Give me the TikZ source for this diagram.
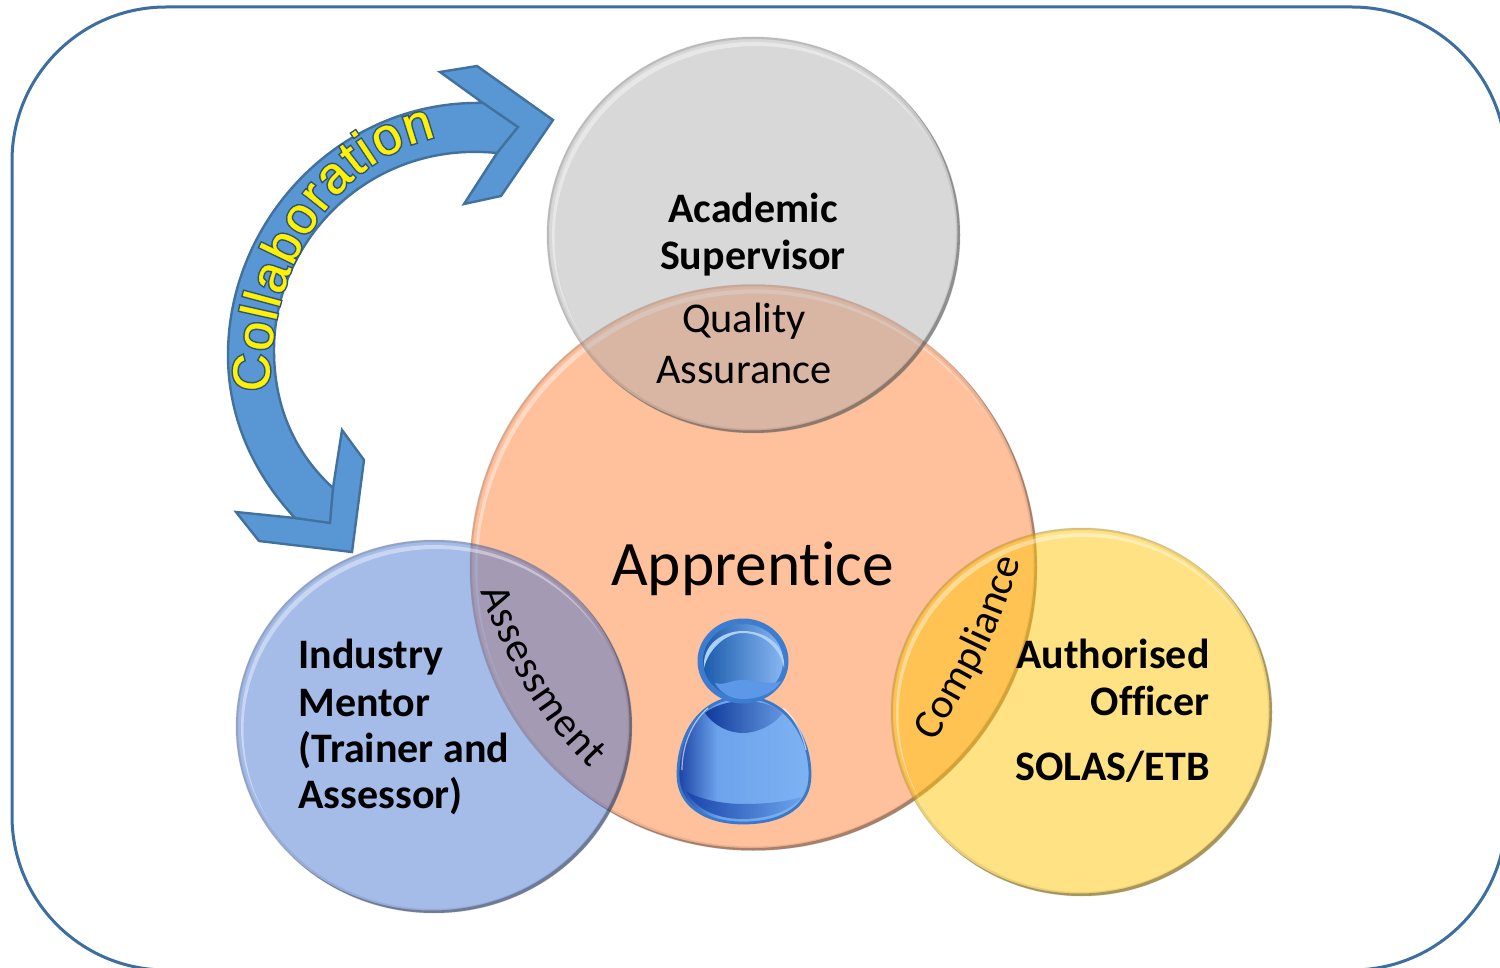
\documentclass[tikz,border=0pt]{standalone}
\usepackage{fontspec}
\usetikzlibrary{decorations.text}
\setmainfont[Ligatures=NoCommon]{Carlito}
\newfontfamily\wafont[FakeBold=.6]{Liberation Sans}
\newfontfamily\wastroke[FakeBold=6.5]{Liberation Sans}
\definecolor{frameblue}{HTML}{3C6EA0}
\definecolor{arrowfill}{HTML}{5897D3}
\definecolor{arrowline}{HTML}{41719C}
\definecolor{halo}{HTML}{2F5378}
\definecolor{peach}{HTML}{FFC09C}
\definecolor{gbub}{RGB}{172,172,172}
\definecolor{bbub}{RGB}{67,113,207}
\definecolor{ybub}{RGB}{255,199,11}
\definecolor{pedge}{RGB}{58,120,200}
\definecolor{pbodyL}{RGB}{28,66,165}
\definecolor{pbodyM}{RGB}{108,163,236}
\definecolor{pbodyR}{RGB}{126,178,243}
\definecolor{pchinL}{RGB}{15,58,155}
\definecolor{pchinR}{RGB}{100,150,222}
\definecolor{pbandL}{RGB}{25,70,170}
\definecolor{pheadE}{RGB}{60,125,208}
\definecolor{pheadL}{RGB}{28,92,172}
\definecolor{pheadR}{RGB}{135,182,242}
\definecolor{pheadG}{RGB}{92,151,232}
\definecolor{pheadH}{RGB}{175,208,246}
\pgfdeclarehorizontalshading{bodyshade}{100bp}{color(0bp)=(pbodyL); color(25bp)=(pbodyL); color(40bp)=(pbodyM); color(75bp)=(pbodyR); color(100bp)=(pbodyR)}
\tikzset{
  lab/.style={inner sep=0pt,font=\fontsize{21pt}{25pt}\selectfont\bfseries},
  reg/.style={inner sep=0pt,font=\fontsize{21.2pt}{25pt}\selectfont},
  arrowshape/.style={fill=arrowfill,draw=arrowline,line width=1.2pt,line join=miter},
}
% cx cy rx ry colour opacity
\newcommand{\bubble}[6]{%
  \fill[#5,opacity=#6] (#1,#2) ellipse [x radius=#3,y radius=#4];
  \begin{scope}
    \clip (#1,#2) ellipse [x radius=#3,y radius=#4];
    \fill[black,opacity=.28,even odd rule] (0,0) rectangle (1500,968) ({#1-2.5},{#2-2.5}) ellipse [x radius=#3,y radius=#4];
    \fill[black,opacity=.08,even odd rule] (0,0) rectangle (1500,968) ({#1-1},{#2-1}) ellipse [x radius={#3-3},y radius={#4-3}];
    \fill[black,opacity=.05,even odd rule] (0,0) rectangle (1500,968) ({#1+2},{#2+2}) ellipse [x radius=#3,y radius=#4];
  \end{scope}
  \begin{scope}
    \clip (#1,#2) ellipse [x radius={#3-5},y radius={#4-5}];
    \fill[white,opacity=.40,even odd rule] (0,0) rectangle (1500,968) ({#1+2.5},{#2+4}) ellipse [x radius={#3-5},y radius={#4-5}];
  \end{scope}
  \draw[black!40,opacity=.22,line width=.5pt] (#1,#2) ellipse [x radius=#3,y radius=#4];
}
\begin{document}
\begin{tikzpicture}[x=.5pt,y=-.5pt]
\useasboundingbox (0,0) rectangle (1500,968);
\fill[white] (0,0) rectangle (1500,968);
\clip (0,0) rectangle (1500,968);
\draw[frameblue,line width=1.5pt,rounded corners=77pt] (12,7) rectangle (1506,970);

% collaboration arrow
\draw[arrowshape] (483,103) .. controls (340,100) and (228,220) .. (228,355)
  .. controls (228,420) and (255,475) .. (295,518)
  -- (236,512) -- (259,541) -- (352,552) -- (364,460) -- (342,430) -- (333,488)
  .. controls (297,455) and (274,410) .. (274,350)
  .. controls (274,240) and (370,140) .. (497,153)
  -- (464,204) -- (501,196) -- (553,120) -- (477,66) -- (440,72) -- cycle;
\draw[arrowline,line width=1.2pt] (483,103) -- (518,127) -- (497,153);
\draw[arrowline,line width=1.2pt] (295,518) -- (330,523) -- (333,488);
\path[decorate,decoration={text along path,text align={fit to path},
  text={|\fontsize{26pt}{30pt}\wastroke\color{halo}|Collaboration}}]
  (269,392) .. controls (268,265) and (335,160) .. (436,137);
\path[decorate,decoration={text along path,text align={fit to path},
  text={|\fontsize{26pt}{30pt}\wafont\color{yellow}|Collaboration}}]
  (269,392) .. controls (268,265) and (335,160) .. (436,137);

% circles
\bubble{753.5}{567.5}{283.5}{283}{peach}{1}
\bubble{753.5}{235}{206.5}{198}{gbub}{.46}
\bubble{434}{726.5}{198}{186.5}{bbub}{.48}
\bubble{1081.5}{712}{190.5}{184}{ybub}{.5}

% person
\draw[draw=pedge,line width=1.4pt,shading=bodyshade]
  (743,697) .. controls (700,697) and (678,735) .. (678,775)
  .. controls (678,805) and (705,823) .. (743,823)
  .. controls (785,823) and (810,805) .. (810,775)
  .. controls (810,735) and (785,697) .. (743,697) -- cycle;
\shade[left color=pchinL,right color=pchinR]
  (705,713) .. controls (725,697) and (765,697) .. (783,713)
  .. controls (772,727) and (755,733) .. (743,733)
  .. controls (730,733) and (715,727) .. (705,713) -- cycle;
\shade[left color=pbandL,right color=pbodyM]
  (686,791) .. controls (700,800) and (725,804) .. (743,804)
  .. controls (765,804) and (785,802) .. (802,797)
  .. controls (790,812) and (765,819) .. (743,819)
  .. controls (715,819) and (695,808) .. (686,791) -- cycle;
\draw[white,opacity=.6,line width=.6pt] (682,770) .. controls (682,745) and (692,722) .. (708,708);
\draw[white,opacity=.6,line width=.6pt] (783,708) .. controls (795,718) and (803,735) .. (806,750);
% head
\fill[pheadE] (743,661) ellipse [x radius=45.5,y radius=42.5];
\shade[left color=pheadL,right color=pheadR]
  (743,661) ellipse [x radius=40,y radius=37];
\fill[pheadG]
  (715,683) .. controls (725,686) and (730,680) .. (743,680)
  .. controls (758,680) and (770,686) .. (781,681)
  .. controls (775,692) and (760,699) .. (743,699)
  .. controls (730,699) and (720,692) .. (715,683) -- cycle;
\fill[pheadH]
  (704,668) .. controls (702,645) and (722,631) .. (743,631)
  .. controls (765,631) and (786,645) .. (784,668)
  .. controls (781,650) and (765,633) .. (743,633)
  .. controls (725,633) and (708,650) .. (704,668) -- cycle;

% labels
\node[lab,anchor=base] (academic) at (753,222.5) {Academic};
\node[lab,anchor=base] (supervisor) at (753,270) {Supervisor};
\node[reg,anchor=base] (quality) at (744,333) {Quality};
\node[reg,anchor=base] (assurance) at (744,384) {Assurance};
\node[inner sep=0pt,anchor=base,font=\fontsize{31.7pt}{34pt}\selectfont] (apprentice) at (752.5,585) {Apprentice};
\node[lab,anchor=base west] (industry) at (298,668) {Industry};
\node[lab,anchor=base west] (mentor) at (298,716) {Mentor};
\node[lab,anchor=base west] (trainer) at (298,762) {(Trainer and};
\node[lab,anchor=base west] (assessor) at (298,808) {Assessor)};
\node[lab,anchor=base east] (authorised) at (1210,668) {Authorised};
\node[lab,anchor=base east] (officer) at (1210,715) {Officer};
\node[lab,anchor=base east] (solas) at (1210,780) {SOLAS/ETB};
\path[decorate,decoration={text along path,text align={fit to path},
  text={|\fontsize{21pt}{25pt}\selectfont|Assessment}}]
  (481,591) .. controls (503,655) and (535,715) .. (590,769);
\path[decorate,decoration={text along path,text align={fit to path},
  text={|\fontsize{21pt}{25pt}\selectfont|Compliance}}]
  (934,742) .. controls (960,700) and (998,640) .. (1021,560);
\end{tikzpicture}
\end{document}
